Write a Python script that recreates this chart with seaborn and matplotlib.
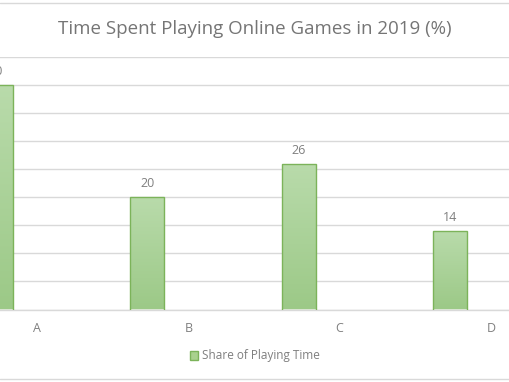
import numpy as np
import pandas as pd
import matplotlib
matplotlib.use("Agg")
import matplotlib.pyplot as plt
from matplotlib.lines import Line2D
from matplotlib.patches import Patch
import seaborn as sns

# Données
categories = ["A", "B", "C", "D"]
valeurs = [40, 20, 26, 14]
serie = "Share of Playing Time"
titre = "Time Spent Playing Online Games in 2019 (%)"

df = pd.DataFrame({"categorie": categories, "valeur": valeurs})

sns.set_theme(style="white")
plt.rcParams['font.family'] = ['Open Sans', 'DejaVu Sans']

gris = "#7f7f7f"
grille = "#d9d9d9"

fig = plt.figure(figsize=(5.1, 3.82), dpi=100)
# zone de tracé plus large que la figure (graphique rogné à gauche et à droite)
ax = fig.add_axes([-38.75 / 510, 72.5 / 382, 605.5 / 510, 252.5 / 382])

sns.barplot(data=df, x="categorie", y="valeur", color="#a9d18e", width=0.224,
            edgecolor="#7cb35a", linewidth=1.0, ax=ax, zorder=3)

# décalage des barres vers la gauche dans chaque catégorie
for p in ax.patches:
    p.set_x(p.get_x() - 0.27)

# dégradé vertical dans les barres
degrade = np.linspace(0, 1, 256).reshape(-1, 1)
cmap = matplotlib.colors.LinearSegmentedColormap.from_list("vert", ["#b9dbab", "#9cc987"])
for p in ax.patches:
    x0, y0 = p.get_x(), p.get_y()
    im = ax.imshow(degrade, extent=[x0, x0 + p.get_width(), y0, y0 + p.get_height()],
                   cmap=cmap, aspect="auto", origin="upper", zorder=3.5)
    im.set_clip_path(p)
    p.set_facecolor("none")
    p.set_zorder(4)

ax.bar_label(ax.containers[0], padding=5, color=gris, fontsize=9)

ax.set_xlim(-0.5, 3.5)
ax.set_ylim(0, 45)
ax.set_yticks(np.arange(0, 46, 5))
ax.yaxis.grid(True, color=grille, linewidth=1.0, zorder=0)
ax.set_axisbelow(True)
ax.tick_params(axis="y", left=False, labelleft=False)
ax.tick_params(axis="x", bottom=False, colors=gris, labelsize=9, pad=3)
for s in ["top", "right", "left"]:
    ax.spines[s].set_visible(False)
ax.spines["bottom"].set_color(grille)
ax.spines["bottom"].set_linewidth(1.0)
ax.set_xlabel("")
ax.set_ylabel("")

fig.text(0.5, 1 - 29 / 382, titre, ha="center", va="center", fontsize=13.5, color="#757575")

poignee = Patch(facecolor="#a9d18e", edgecolor="#7cb35a", label=serie)
fig.legend(handles=[poignee], loc="center", bbox_to_anchor=(0.5, 1 - 356 / 382),
           frameon=False, fontsize=8.5, labelcolor=gris, handlelength=0.7, handleheight=0.7,
           handletextpad=0.3)

# bordures du graphique
fig.add_artist(Line2D([0, 1], [1 - 2.5 / 382] * 2, color=grille, linewidth=1.0))
fig.add_artist(Line2D([0, 1], [1 - 378.5 / 382] * 2, color=grille, linewidth=1.0))

fig.savefig("out.png", dpi=100)
